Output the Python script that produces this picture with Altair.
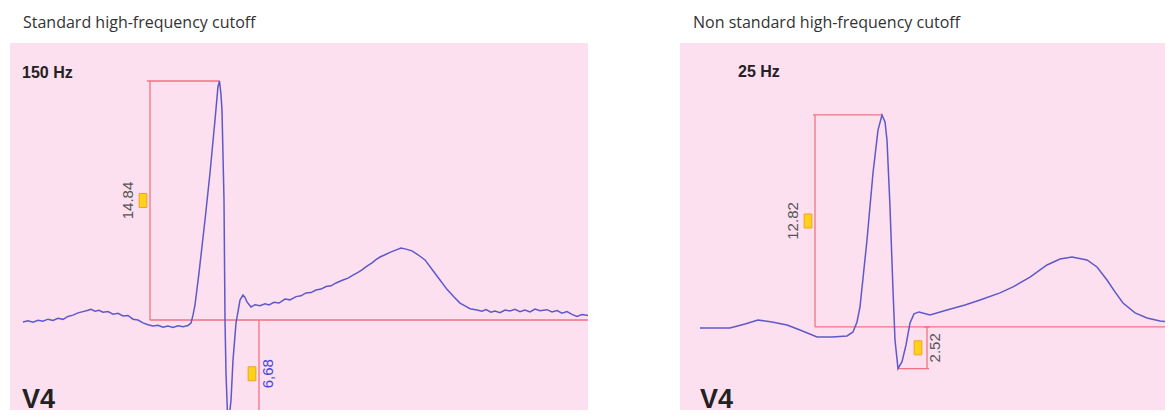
import altair as alt
import pandas as pd

# ---------------- data (time in ms, amplitude in mm) ----------------
left_t = [26, 36, 46, 56, 66, 76, 86, 96, 106, 116, 126, 136, 146, 156, 162, 170, 178, 186, 196, 206,
          216, 226, 236, 246, 256, 266, 276, 286, 296, 306, 316, 326, 336, 346, 356, 362, 366, 370, 378, 390,
          400, 410, 416, 419, 422, 424, 428, 430, 432, 436, 442, 446, 452, 460, 466, 470, 474, 482, 490, 500,
          510, 518, 528, 538, 550, 560, 572, 582, 592, 602, 612, 622, 632, 642, 652, 666, 676, 686, 696, 704,
          714, 724, 732, 740, 750, 760, 770, 782, 792, 804, 816, 830, 845, 860, 874, 888, 900, 910, 920, 934,
          944, 952, 962, 970, 980, 990, 1000, 1010, 1020, 1030, 1040, 1050, 1060, 1074, 1084, 1094, 1104, 1114, 1124, 1134,
          1144, 1156]
left_mm = [-0.12, -0.05, -0.14, -0.02, -0.08, 0.05, -0.03, 0.10, 0.04, 0.22, 0.30, 0.44, 0.52, 0.60, 0.66, 0.55, 0.60, 0.48, 0.52, 0.36,
           0.42, 0.25, 0.28, 0.05, 0.0, -0.18, -0.30, -0.38, -0.33, -0.45, -0.38, -0.46, -0.36, -0.42, -0.34, -0.19, 0.3, 0.93, 2.92, 6.21,
           9.13, 12.42, 14.5, 14.84, 14.0, 13.0, 7.45, 0.0, -3.3, -6.68, -5.0, -2.5, -0.2, 1.24, 1.55, 1.40, 1.12, 0.81, 0.95, 0.88,
           1.0, 0.93, 1.10, 1.05, 1.30, 1.25, 1.45, 1.50, 1.68, 1.70, 1.86, 1.92, 2.08, 2.12, 2.30, 2.48, 2.60, 2.78, 2.95, 3.11,
           3.35, 3.55, 3.75, 3.91, 4.05, 4.20, 4.32, 4.47, 4.40, 4.29, 4.05, 3.73, 3.10, 2.48, 1.90, 1.43, 1.05, 0.87, 0.70, 0.62,
           0.55, 0.65, 0.48, 0.55, 0.45, 0.62, 0.56, 0.66, 0.52, 0.62, 0.50, 0.68, 0.58, 0.64, 0.50, 0.58, 0.42, 0.52, 0.35, 0.22,
           0.34, 0.28]

right_t = [40, 100, 130, 156, 184, 214, 240, 274, 304, 334, 346, 354, 360, 374, 386, 396, 404, 410, 414, 420,
           426, 430, 436, 444, 452, 460, 468, 478, 500, 534, 570, 600, 640, 666, 700, 734, 760, 784, 814, 834,
           854, 870, 886, 910, 934, 960, 986]
right_mm = [-0.06, -0.06, 0.18, 0.42, 0.30, 0.12, -0.18, -0.60, -0.60, -0.54, -0.30, 0.30, 1.21, 5.26, 9.31, 11.9, 12.82, 12.4, 11.3, 7.26,
            2.24, -0.79, -2.52, -2.1, -1.09, 0.24, 0.79, 0.91, 0.73, 1.03, 1.33, 1.63, 2.06, 2.42, 3.02, 3.75, 4.11, 4.23, 4.05, 3.63,
            2.84, 2.12, 1.45, 0.85, 0.54, 0.36, 0.30]

# measurement callipers: start t, end t, start mm, end mm
left_rule_t1 = [274, 280, 280, 498, 436]
left_rule_t2 = [419, 280, 1156, 498, 498]
left_rule_y1 = [14.84, 0.0, 0.0, 0.0, -6.68]
left_rule_y2 = [14.84, 14.84, 0.0, -6.68, -6.68]

right_rule_t1 = [266, 270, 270, 494, 436, 488]
right_rule_t2 = [404, 270, 986, 494, 498, 500]
right_rule_y1 = [12.82, 0.0, 0.0, 0.0, -2.52, 0.0]
right_rule_y2 = [12.82, 12.82, 0.0, -2.52, -2.52, 0.0]

# measurement labels
left_values = ["14.84", "6,68"]
left_value_t = [236, 516]
left_value_mm = [7.42, -3.34]
left_value_color = ["#555555", "#4a46d6"]
left_box_t = [266, 484]
left_box_mm = [7.42, -3.34]

right_values = ["12.82", "2.52"]
right_value_t = [226, 510]
right_value_mm = [6.41, -1.26]
right_value_color = ["#555555", "#555555"]
right_box_t = [256, 476]
right_box_mm = [6.41, -1.26]

left_freq = "150 Hz"
right_freq = "25 Hz"
lead = "V4"
left_title = "Standard high-frequency cutoff"
right_title = "Non standard high-frequency cutoff"

PINK = "#fce0ef"
TRACE = "#5f58c8"
RED = "#f07482"


def panel(t, mm, r_t1, r_t2, r_y1, r_y2, vals, vt, vmm, vcol, bt, bmm,
          freq, freq_t, freq_mm, lead_t, lead_mm, xdom, ydom, width, title):
    sx = alt.Scale(domain=xdom, nice=False, zero=False)
    sy = alt.Scale(domain=ydom, nice=False, zero=False)
    X = lambda f: alt.X(f, type="quantitative", scale=sx, axis=None)
    Y = lambda f: alt.Y(f, type="quantitative", scale=sy, axis=None)

    rules = pd.DataFrame({"t1": r_t1, "t2": r_t2, "y1": r_y1, "y2": r_y2})
    rule_layer = alt.Chart(rules).mark_rule(color=RED, strokeWidth=1.3, clip=True).encode(
        x=X("t1"), x2="t2", y=Y("y1"), y2="y2")

    trace = pd.DataFrame({"t": t, "mm": mm})
    line_layer = alt.Chart(trace).mark_line(color=TRACE, strokeWidth=1.5, clip=True).encode(
        x=X("t"), y=Y("mm"))

    lab = pd.DataFrame({"v": vals, "t": vt, "mm": vmm, "c": vcol})
    lab_layer = alt.Chart(lab).mark_text(angle=270, font="Liberation Sans", fontSize=15,
                                         align="center", baseline="middle").encode(
        x=X("t"), y=Y("mm"), text="v:N", color=alt.Color("c:N", scale=None))

    boxes = pd.DataFrame({"t": bt, "mm": bmm})
    box_layer = alt.Chart(boxes).mark_point(
        shape="M-0.55,-1L0.55,-1L0.55,1L-0.55,1Z", size=196, filled=True,
        fill="#ffd21a", stroke="#f2a020", strokeWidth=1, opacity=1).encode(
        x=X("t"), y=Y("mm"))

    fr = pd.DataFrame({"s": [freq], "t": [freq_t], "mm": [freq_mm]})
    freq_layer = alt.Chart(fr).mark_text(
        font="Liberation Sans", fontWeight="bold", fontSize=16, color="#222222",
        align="left", baseline="middle").encode(x=X("t"), y=Y("mm"), text="s:N")
    ld = pd.DataFrame({"s": [lead], "t": [lead_t], "mm": [lead_mm]})
    lead_layer = alt.Chart(ld).mark_text(
        font="Liberation Sans", fontWeight="bold", fontSize=27, color="#222222",
        align="left", baseline="alphabetic").encode(x=X("t"), y=Y("mm"), text="s:N")

    return alt.layer(rule_layer, line_layer, box_layer, lab_layer, freq_layer, lead_layer).properties(
        width=width, height=367,
        title=alt.TitleParams(title, anchor="start", dx=13, offset=12, fontSize=16,
                              font="Open Sans", fontWeight="normal", color="#333333"))


left = panel(left_t, left_mm, left_rule_t1, left_rule_t2, left_rule_y1, left_rule_y2,
             left_values, left_value_t, left_value_mm, left_value_color, left_box_t, left_box_mm,
             left_freq, 24, 15.34, 24, -5.44, [0, 1156], [-5.59, 17.2], 578, left_title)
right = panel(right_t, right_mm, right_rule_t1, right_rule_t2, right_rule_y1, right_rule_y2,
              right_values, right_value_t, right_value_mm, right_value_color, right_box_t, right_box_mm,
              right_freq, 116, 15.42, 40, -4.87, [0, 970], [-5.02, 17.17], 485, right_title)

chart = alt.hconcat(left, right, spacing=92).properties(
    padding={"left": 2, "top": 7, "right": 0, "bottom": 0},
    background="white",
).configure_view(fill=PINK, stroke=None)

chart.save("out.html", embed_options={"renderer": "svg", "actions": False})
